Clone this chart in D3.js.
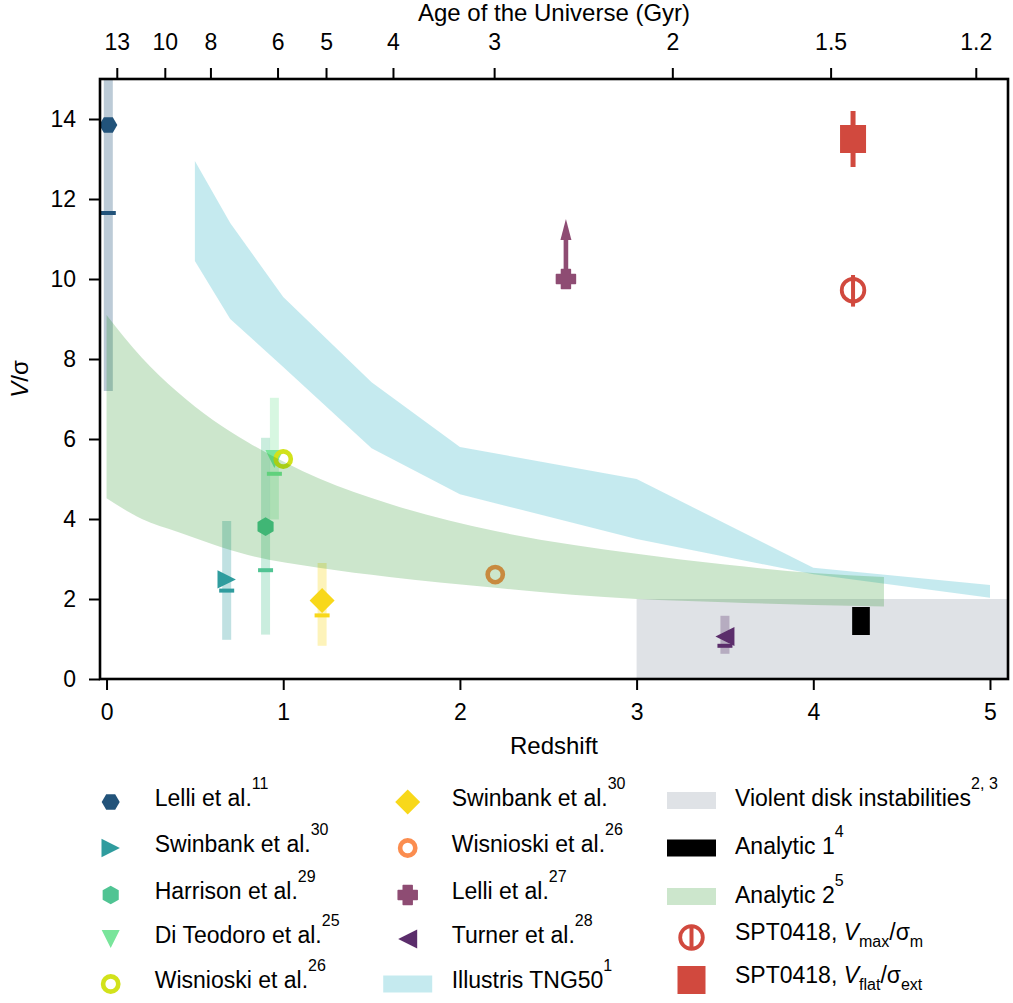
<!DOCTYPE html>
<html>
<head>
<meta charset="utf-8">
<script src="https://cdn.jsdelivr.net/npm/d3@7"></script>
<style>
body { margin: 0; background: #fff; }
text { font-family: "Liberation Sans", Arial, sans-serif; fill: #000; }
</style>
</head>
<body>
<svg id="chart" width="1013" height="1003"></svg>
<script>
// ---- observations (one entry per study) ----
var obsRef    = ["Lelli et al.", "Swinbank et al.", "Harrison et al.", "Di Teodoro et al.", "Wisnioski et al.",
                 "Swinbank et al.", "Wisnioski et al.", "Lelli et al.", "Turner et al."];
var obsCite   = ["11", "30", "29", "25", "26", "30", "26", "27", "28"];
var obsShape  = ["hexH", "triRight", "hexV", "triDown", "ring", "diamond", "ring", "plus", "triLeft"];
var obsColor  = ["#22537a", "#2f9c9e", "#50c493", "#79e59b", "#d2e21b", "#f8d81a", "#fb8d4f", "#8e4c73", "#5b2d6b"];
var obsZ      = [0.01, 0.68, 0.90, 0.95, 1.00, 1.22, 2.20, 2.60, 3.50];
var obsV      = [13.85, 2.49, 3.81, 5.50, 5.50, 1.96, 2.61, 10.0, 1.06];
var obsMedian = [11.65, 2.21, 2.72, 5.13, null, 1.59, null, null, 0.83];
var obsLow    = [7.2, 0.98, 1.11, 3.99, null, 0.83, null, null, 0.63];
var obsHigh   = [15.5, 3.95, 6.03, 7.03, null, 2.90, null, null, 1.58];
var lowerLimitTip = 11.5;   // arrow of Lelli et al. 27

// ---- Illustris TNG50 band ----
var tngZ    = [0.5, 0.7, 1.0, 1.5, 2.0, 3.0, 4.0, 5.0];
var tngHigh = [12.95, 11.4, 9.55, 7.42, 5.80, 5.00, 2.78, 2.35];
var tngLow  = [10.45, 9.00, 7.80, 5.77, 4.62, 3.50, 2.62, 2.03];

// ---- Analytic 2 band ----
var an2Z    = [0, 0.2, 0.4, 0.6, 0.8, 1.2, 1.6, 2.2, 3.0, 3.5, 4.0, 4.4];
var an2High = [9.1, 8.03, 7.18, 6.48, 5.92, 5.02, 4.38, 3.70, 3.13, 2.86, 2.65, 2.55];
var an2Low  = [4.52, 4.00, 3.68, 3.37, 3.10, 2.78, 2.55, 2.28, 2.00, 1.92, 1.85, 1.81];

// ---- Analytic 1 box and violent disk instabilities region ----
var an1Z = [4.22, 4.32], an1V = [1.1, 1.8];
var vdiZ = [3.0, 5.2], vdiV = [0, 2.0];

// ---- SPT0418 ----
var sptZ = 4.225;
var sptMax = 9.72,  sptMaxErr = [9.31, 10.1];
var sptFlat = 13.5, sptFlatErr = [12.8, 14.2];

// ---- axes ----
var xTicks = [0, 1, 2, 3, 4, 5];
var yTicks = [0, 2, 4, 6, 8, 10, 12, 14];
var ageTicks = [13, 10, 8, 6, 5, 4, 3, 2, 1.5, 1.2];

var red = "#d1493e";
var X0 = 100, X1 = 1008, Y0 = 79, Y1 = 679;

var x = d3.scaleLinear().domain([-0.037, 5.102]).range([X0, X1]);
var y = d3.scaleLinear().domain([0, 15]).range([Y1, Y0]);

// redshift at a given age of the universe (flat LCDM, Planck)
function zOfAge(t) {
    var hubbleTime = 977.8 / 67.74, omL = 0.6911, omM = 0.3089;
    var pre = 2 / 3 * hubbleTime / Math.sqrt(omL);
    var a15 = Math.sinh(t / pre) / Math.sqrt(omL / omM);
    return Math.pow(a15, -2 / 3) - 1;
}

var svg = d3.select("#chart");
svg.append("defs").append("clipPath").attr("id", "plotclip")
    .append("rect").attr("x", X0).attr("y", Y0).attr("width", X1 - X0).attr("height", Y1 - Y0);

var plot = svg.append("g").attr("clip-path", "url(#plotclip)");

function markerPath(shape, s) {
    var p;
    if (shape == "hexH" || shape == "hexV") {
        var off = shape == "hexH" ? 0 : 90;
        p = d3.range(6).map(function(k) {
            var a = (off + 60 * k) * Math.PI / 180;
            return [s * Math.cos(a), -s * Math.sin(a)];
        });
    } else if (shape == "triRight") {
        p = [[s, 0], [-s, -s], [-s, s]];
    } else if (shape == "triLeft") {
        p = [[-s, 0], [s, -s], [s, s]];
    } else if (shape == "triDown") {
        p = [[0, s], [-s, -s], [s, -s]];
    } else if (shape == "diamond") {
        p = [[0, -s], [s, 0], [0, s], [-s, 0]];
    } else if (shape == "plus") {
        var w = s * 0.47;
        p = [[-w, -s], [w, -s], [w, -w], [s, -w], [s, w], [w, w], [w, s], [-w, s], [-w, w], [-s, w], [-s, -w], [-w, -w]];
    }
    return "M" + p.map(function(d) { return d.join(","); }).join("L") + "Z";
}

var markerSize = { hexH: 9, hexV: 9.3, triRight: 9.2, triLeft: 9.5, triDown: 9, diamond: 12.5, plus: 9.5 };

function drawMarker(g, shape, color, cx, cy) {
    if (shape == "ring") {
        g.append("circle").attr("cx", cx).attr("cy", cy).attr("r", 7.6)
            .attr("fill", "none").attr("stroke", color).attr("stroke-width", 4.6);
    } else {
        var stroke = shape == "plus" ? color : "none";
        g.append("path").attr("d", markerPath(shape, markerSize[shape]))
            .attr("transform", "translate(" + cx + "," + cy + ")")
            .attr("fill", color).attr("stroke", stroke).attr("stroke-width", 1.5)
            .attr("stroke-linejoin", "round");
    }
}

// violent disk instabilities
plot.append("rect")
    .attr("x", x(vdiZ[0])).attr("y", y(vdiV[1]))
    .attr("width", x(vdiZ[1]) - x(vdiZ[0])).attr("height", y(vdiV[0]) - y(vdiV[1]))
    .attr("fill", "#dfe2e6");

// TNG50 band
var tngArea = d3.area()
    .x(function(d, i) { return x(tngZ[i]); })
    .y0(function(d, i) { return y(tngLow[i]); })
    .y1(function(d, i) { return y(tngHigh[i]); });
plot.append("path").attr("d", tngArea(tngZ))
    .attr("fill", "#3fb8c9").attr("fill-opacity", 0.3);

// ranges and medians
for (var i = 0; i < obsZ.length; i++) {
    if (obsLow[i] == null) continue;
    plot.append("rect")
        .attr("x", x(obsZ[i]) - 4.5).attr("y", y(obsHigh[i]))
        .attr("width", 9).attr("height", y(obsLow[i]) - y(obsHigh[i]))
        .attr("fill", obsColor[i]).attr("fill-opacity", 0.3);
}
for (var i = 0; i < obsZ.length; i++) {
    if (obsMedian[i] == null) continue;
    plot.append("rect")
        .attr("x", x(obsZ[i]) - 7.5).attr("y", y(obsMedian[i]) - 2)
        .attr("width", 15).attr("height", 4)
        .attr("fill", obsColor[i]);
}

// lower-limit arrow
var li = obsShape.indexOf("plus");
var ax = x(obsZ[li]);
plot.append("rect")
    .attr("x", ax - 2.3).attr("y", y(lowerLimitTip) + 20)
    .attr("width", 4.6).attr("height", y(obsV[li]) - y(lowerLimitTip) - 20)
    .attr("fill", obsColor[li]);
plot.append("path")
    .attr("d", "M" + ax + "," + y(lowerLimitTip) + "L" + (ax + 5.5) + "," + (y(lowerLimitTip) + 21) +
               "L" + (ax - 5.5) + "," + (y(lowerLimitTip) + 21) + "Z")
    .attr("fill", obsColor[li]);

// markers
for (var i = 0; i < obsZ.length; i++) {
    drawMarker(plot, obsShape[i], obsColor[i], x(obsZ[i]), y(obsV[i]));
}

// Analytic 2 band, drawn on top
var an2Area = d3.area().curve(d3.curveMonotoneX)
    .x(function(d, i) { return x(an2Z[i]); })
    .y0(function(d, i) { return y(an2Low[i]); })
    .y1(function(d, i) { return y(an2High[i]); });
plot.append("path").attr("d", an2Area(an2Z))
    .attr("fill", "green").attr("fill-opacity", 0.2);

// Analytic 1
plot.append("rect")
    .attr("x", x(an1Z[0])).attr("y", y(an1V[1]))
    .attr("width", x(an1Z[1]) - x(an1Z[0])).attr("height", y(an1V[0]) - y(an1V[1]))
    .attr("fill", "#000");

// SPT0418
var sx = x(sptZ);
plot.append("line").attr("x1", sx).attr("x2", sx)
    .attr("y1", y(sptFlatErr[0])).attr("y2", y(sptFlatErr[1]))
    .attr("stroke", red).attr("stroke-width", 5);
plot.append("rect").attr("x", sx - 13).attr("y", y(sptFlat) - 14)
    .attr("width", 26).attr("height", 28).attr("fill", red);
plot.append("circle").attr("cx", sx).attr("cy", y(sptMax)).attr("r", 11.3)
    .attr("fill", "none").attr("stroke", red).attr("stroke-width", 3.8);
plot.append("line").attr("x1", sx).attr("x2", sx)
    .attr("y1", y(sptMaxErr[0])).attr("y2", y(sptMaxErr[1]))
    .attr("stroke", red).attr("stroke-width", 4);

// ---- axes ----
function styleAxis(g) {
    g.select(".domain").remove();
    g.selectAll(".tick line").attr("stroke", "#000").attr("stroke-width", 2);
    g.selectAll(".tick text").attr("font-size", 23).attr("fill", "#000")
        .attr("font-family", "Liberation Sans, Arial, sans-serif");
}

svg.append("g").attr("transform", "translate(0," + Y1 + ")")
    .call(d3.axisBottom(x).tickValues(xTicks).tickFormat(d3.format("d")).tickSize(11).tickPadding(14))
    .call(styleAxis);

svg.append("g").attr("transform", "translate(" + X0 + ",0)")
    .call(d3.axisLeft(y).tickValues(yTicks).tickFormat(d3.format("d")).tickSize(11).tickPadding(13))
    .call(styleAxis);

var ageZ = ageTicks.map(zOfAge);
svg.append("g").attr("transform", "translate(0," + Y0 + ")")
    .call(d3.axisTop(x).tickValues(ageZ).tickFormat(function(d, i) { return ageTicks[i]; })
        .tickSize(11).tickPadding(18))
    .call(styleAxis);

svg.append("rect").attr("x", X0).attr("y", Y0).attr("width", X1 - X0).attr("height", Y1 - Y0)
    .attr("fill", "none").attr("stroke", "#000").attr("stroke-width", 2.6);

svg.append("text").attr("x", (X0 + X1) / 2).attr("y", 754).attr("text-anchor", "middle")
    .attr("font-size", 24).text("Redshift");
svg.append("text").attr("x", (X0 + X1) / 2).attr("y", 21).attr("text-anchor", "middle")
    .attr("font-size", 24).text("Age of the Universe (Gyr)");
var yl = svg.append("text").attr("transform", "translate(28," + ((Y0 + Y1) / 2) + ") rotate(-90)")
    .attr("text-anchor", "middle").attr("font-size", 24);
yl.append("tspan").attr("font-style", "italic").text("V");
yl.append("tspan").text("/σ");

// ---- legend ----
var legRows = [802, 848, 895, 939, 984];
var col1 = 110.7, col2 = 407.7, col3 = 691.5, textGap = 44;

function citeLabel(tx, ty, name, cite) {
    var t = svg.append("text").attr("x", tx).attr("y", ty).attr("font-size", 23);
    t.append("tspan").text(name);
    t.append("tspan").attr("font-size", 16).attr("dy", -17).text(cite);
}

for (var i = 0; i < obsZ.length; i++) {
    var cx = i < 5 ? col1 : col2;
    var row = legRows[i < 5 ? i : i - 5];
    var shape = obsShape[i];
    drawMarker(svg, shape, obsColor[i], cx, row);
    citeLabel(cx + textGap, row + 4, obsRef[i], obsCite[i]);
}

// TNG50 patch
svg.append("rect").attr("x", col2 - 24.5).attr("y", legRows[4] - 8.5).attr("width", 49).attr("height", 17)
    .attr("fill", "#3fb8c9").attr("fill-opacity", 0.3);
citeLabel(col2 + textGap, legRows[4] + 4, "Illustris TNG50", "1");

// third column
svg.append("rect").attr("x", col3 - 24.5).attr("y", legRows[0] - 10).attr("width", 49).attr("height", 17)
    .attr("fill", "#dfe2e6");
citeLabel(col3 + 43.5, legRows[0] + 4, "Violent disk instabilities", "2, 3");

svg.append("rect").attr("x", col3 - 24.5).attr("y", legRows[1] - 8.5).attr("width", 49).attr("height", 17)
    .attr("fill", "#000");
citeLabel(col3 + 43.5, legRows[1] + 6, "Analytic 1", "4");

svg.append("rect").attr("x", col3 - 24.5).attr("y", legRows[2] - 7).attr("width", 49).attr("height", 17)
    .attr("fill", "green").attr("fill-opacity", 0.2);
citeLabel(col3 + 43.5, legRows[2] + 8, "Analytic 2", "5");

svg.append("circle").attr("cx", col3).attr("cy", legRows[3] - 1.5).attr("r", 11.3)
    .attr("fill", "none").attr("stroke", red).attr("stroke-width", 3.8);
svg.append("line").attr("x1", col3).attr("x2", col3).attr("y1", legRows[3] - 13).attr("y2", legRows[3] + 10)
    .attr("stroke", red).attr("stroke-width", 4);
var t1 = svg.append("text").attr("x", col3 + 43.5).attr("y", legRows[3] + 1).attr("font-size", 23);
t1.append("tspan").text("SPT0418, ");
t1.append("tspan").attr("font-style", "italic").text("V");
t1.append("tspan").attr("font-size", 16).attr("dy", 7).text("max");
t1.append("tspan").attr("dy", -7).text("/σ");
t1.append("tspan").attr("font-size", 16).attr("dy", 7).text("m");

svg.append("rect").attr("x", col3 - 14).attr("y", legRows[4] - 18).attr("width", 28).attr("height", 28)
    .attr("fill", red);
var t2 = svg.append("text").attr("x", col3 + 43.5).attr("y", legRows[4] - 1).attr("font-size", 23);
t2.append("tspan").text("SPT0418, ");
t2.append("tspan").attr("font-style", "italic").text("V");
t2.append("tspan").attr("font-size", 16).attr("dy", 7).text("flat");
t2.append("tspan").attr("dy", -7).text("/σ");
t2.append("tspan").attr("font-size", 16).attr("dy", 7).text("ext");
</script>
</body>
</html>
